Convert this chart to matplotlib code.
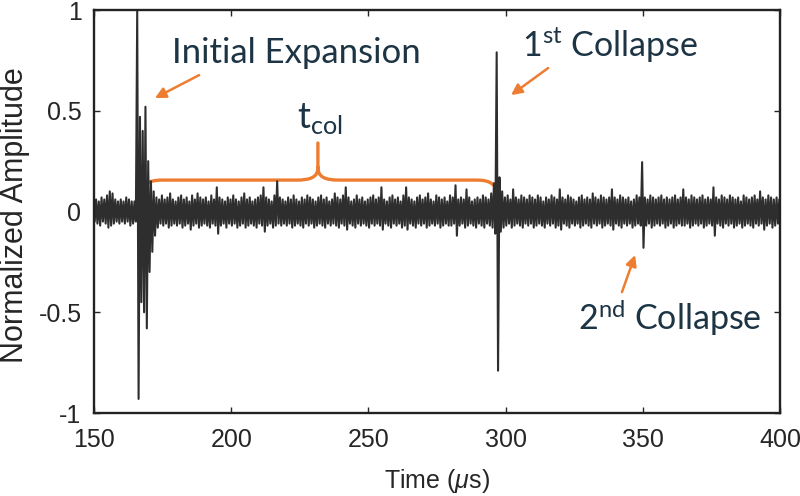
import numpy as np
import matplotlib
matplotlib.use('Agg')
import matplotlib.pyplot as plt
from matplotlib.path import Path
from matplotlib.patches import PathPatch

plt.rcParams['font.family'] = 'Liberation Sans'
plt.rcParams['mathtext.fontset'] = 'custom'
plt.rcParams['mathtext.rm'] = 'Lato'
plt.rcParams['mathtext.it'] = 'Liberation Sans:italic'
plt.rcParams['mathtext.bf'] = 'Lato:bold'

# Signal envelope, 1 us bins from 150 to 400 us
time_us = np.arange(150, 401)

# upper extreme per bin (positive amplitude)
upper = [
    .05, .06, .05, .07, .06, .08, .10, .09, .06, .05,
    .06, .05, .07, .06, .05, .05, 1.0, .47, .40, .52,
    .25, .15, .10, .07, .06, .08, .06, .07, .09, .06,
    .05, .07, .08, .06, .07, .05, .08, .06, .09, .07,
    .06, .07, .05, .08, .06, .12, .07, .06, .05, .07,
    .06, .08, .06, .05, .07, .09, .06, .07, .05, .06,
    .07, .08, .12, .07, .06, .05, .08, .15, .07, .06,
    .05, .07, .06, .08, .06, .05, .07, .06, .08, .07,
    .06, .05, .07, .08, .06, .07, .05, .06, .09, .07,
    .06, .08, .12, .07, .05, .06, .08, .06, .07, .05,
    .06, .07, .08, .06, .07, .12, .06, .05, .07, .08,
    .06, .07, .05, .08, .12, .07, .06, .05, .07, .08,
    .06, .07, .09, .06, .05, .08, .07, .06, .07, .05,
    .08, .07, .13, .06, .07, .06, .11, .07, .05, .06,
    .07, .06, .08, .07, .06, .09, .14, .79, .17, .10,
    .07, .08, .06, .11, .07, .06, .08, .07, .06, .08,
    .07, .06, .08, .07, .05, .07, .06, .08, .07, .06,
    .11, .07, .06, .08, .07, .06, .05, .07, .08, .06,
    .07, .06, .09, .07, .06, .08, .07, .06, .07, .11,
    .07, .06, .08, .07, .06, .07, .05, .06, .08, .07,
    .245, .07, .06, .08, .07, .06, .07, .08, .06, .07,
    .06, .07, .08, .06, .07, .11, .07, .06, .08, .07,
    .06, .07, .08, .06, .07, .06, .12, .07, .06, .08,
    .07, .06, .08, .07, .06, .07, .05, .08, .07, .06,
    .07, .08, .06, .10, .07, .06, .08, .07, .06, .07,
    .06,
]

# lower extreme per bin (magnitude of negative amplitude)
lower = [
    .05, .06, .07, .05, .06, .08, .07, .06, .05, .06,
    .05, .06, .05, .07, .06, .05, .93, .45, .50, .58,
    .30, .20, .12, .08, .06, .07, .06, .08, .07, .06,
    .07, .06, .08, .07, .06, .09, .07, .06, .08, .07,
    .06, .07, .08, .06, .07, .11, .07, .06, .08, .06,
    .07, .06, .08, .07, .06, .08, .07, .06, .07, .08,
    .06, .07, .10, .07, .06, .08, .07, .06, .07, .06,
    .07, .06, .08, .07, .06, .07, .08, .06, .07, .06,
    .08, .07, .06, .07, .08, .06, .07, .06, .07, .08,
    .06, .07, .09, .06, .07, .08, .06, .07, .06, .07,
    .08, .06, .07, .06, .07, .09, .06, .07, .08, .06,
    .07, .06, .08, .07, .09, .06, .07, .08, .06, .07,
    .06, .08, .07, .06, .07, .06, .08, .07, .06, .07,
    .07, .06, .12, .07, .06, .08, .07, .06, .07, .08,
    .06, .07, .08, .06, .07, .08, .11, .79, .10, .08,
    .07, .06, .08, .07, .06, .07, .08, .06, .07, .06,
    .08, .07, .06, .07, .08, .06, .07, .06, .08, .07,
    .09, .06, .07, .08, .06, .07, .06, .08, .07, .06,
    .07, .08, .06, .07, .06, .08, .07, .06, .07, .09,
    .06, .07, .08, .06, .07, .06, .08, .07, .06, .07,
    .18, .07, .06, .08, .07, .06, .07, .06, .08, .07,
    .06, .08, .07, .06, .07, .07, .06, .08, .07, .06,
    .07, .06, .08, .07, .06, .07, .12, .06, .07, .08,
    .06, .07, .06, .08, .07, .06, .08, .07, .06, .07,
    .08, .06, .07, .06, .09, .07, .06, .08, .07, .06,
    .05,
]

orange = '#ED7D31'
navy = '#1C3444'

fig = plt.figure(figsize=(8, 4.96), dpi=100)
ax = fig.add_axes([0.1175, 0.1673, 0.8575, 0.8125])

# trace: alternate between the upper and lower extreme in each bin
t = np.column_stack([time_us - 0.25, time_us + 0.25]).ravel()
y = np.column_stack([np.array(upper), -np.array(lower)]).ravel()
ax.plot(t, y, color='#2e2e2e', linewidth=1.5)

ax.set_xlim(150, 400)
ax.set_ylim(-1, 1)
ax.set_xticks([150, 200, 250, 300, 350, 400])
ax.set_yticks([-1, -0.5, 0, 0.5, 1])
ax.set_yticklabels(['-1', '-0.5', '0', '0.5', '1'])
ax.tick_params(direction='in', length=4, width=1, top=True, right=True,
               labelsize=18, colors='#262626')
ax.tick_params(axis='x', pad=11)
ax.tick_params(axis='y', pad=9)
for s in ax.spines.values():
    s.set_linewidth(1.7)
    s.set_color('#222222')

ax.set_xlabel('Time ($\\mu$s)', fontsize=18, color='#262626')
ax.set_ylabel('Normalized Amplitude', fontsize=22, color='#262626')
ax.xaxis.set_label_coords(0.5, -0.133)
ax.yaxis.set_label_coords(-0.094, 0.49)

# brace marking t_col
verts = [(166.8, 0.05), (166.8, 0.13), (169.0, 0.156), (175.0, 0.156),
         (223.6, 0.156),
         (229.0, 0.156), (231.6, 0.17), (231.6, 0.22),
         (231.6, 0.34),
         (231.6, 0.22),
         (231.6, 0.17), (234.2, 0.156), (239.6, 0.156),
         (289.5, 0.156),
         (295.0, 0.156), (297.2, 0.13), (297.2, 0.055)]
codes = [Path.MOVETO, Path.CURVE4, Path.CURVE4, Path.CURVE4,
         Path.LINETO,
         Path.CURVE4, Path.CURVE4, Path.CURVE4,
         Path.LINETO,
         Path.MOVETO,
         Path.CURVE4, Path.CURVE4, Path.CURVE4,
         Path.LINETO,
         Path.CURVE4, Path.CURVE4, Path.CURVE4]
ax.add_patch(PathPatch(Path(verts, codes), facecolor='none',
                       edgecolor=orange, linewidth=2.4, capstyle='round'))

# annotations
arrow = dict(arrowstyle='-|>', color=orange, lw=1.8, mutation_scale=16,
             shrinkA=0, shrinkB=0)
ax.annotate('', xy=(172.2, 0.563), xytext=(188.3, 0.677), arrowprops=arrow)
ax.annotate('', xy=(302.0, 0.578), xytext=(315.5, 0.712), arrowprops=arrow)
ax.annotate('', xy=(347.2, -0.216), xytext=(342.4, -0.40), arrowprops=arrow)

ax.text(178.4, 0.737, 'Initial Expansion', family='Lato', fontsize=25,
        color=navy, va='baseline')
ax.text(224.0, 0.414, '$\\mathrm{t}_{\\mathrm{col}}$', fontsize=26,
        color=navy, va='baseline')
ax.text(306.0, 0.767, '1$^{\\mathrm{st}}$ Collapse', family='Lato', fontsize=24.5,
        color=navy, va='baseline')
ax.text(326.4, -0.59, '2$^{\\mathrm{nd}}$ Collapse', family='Lato', fontsize=24.5,
        color=navy, va='baseline')

fig.savefig('out.png', dpi=100)
